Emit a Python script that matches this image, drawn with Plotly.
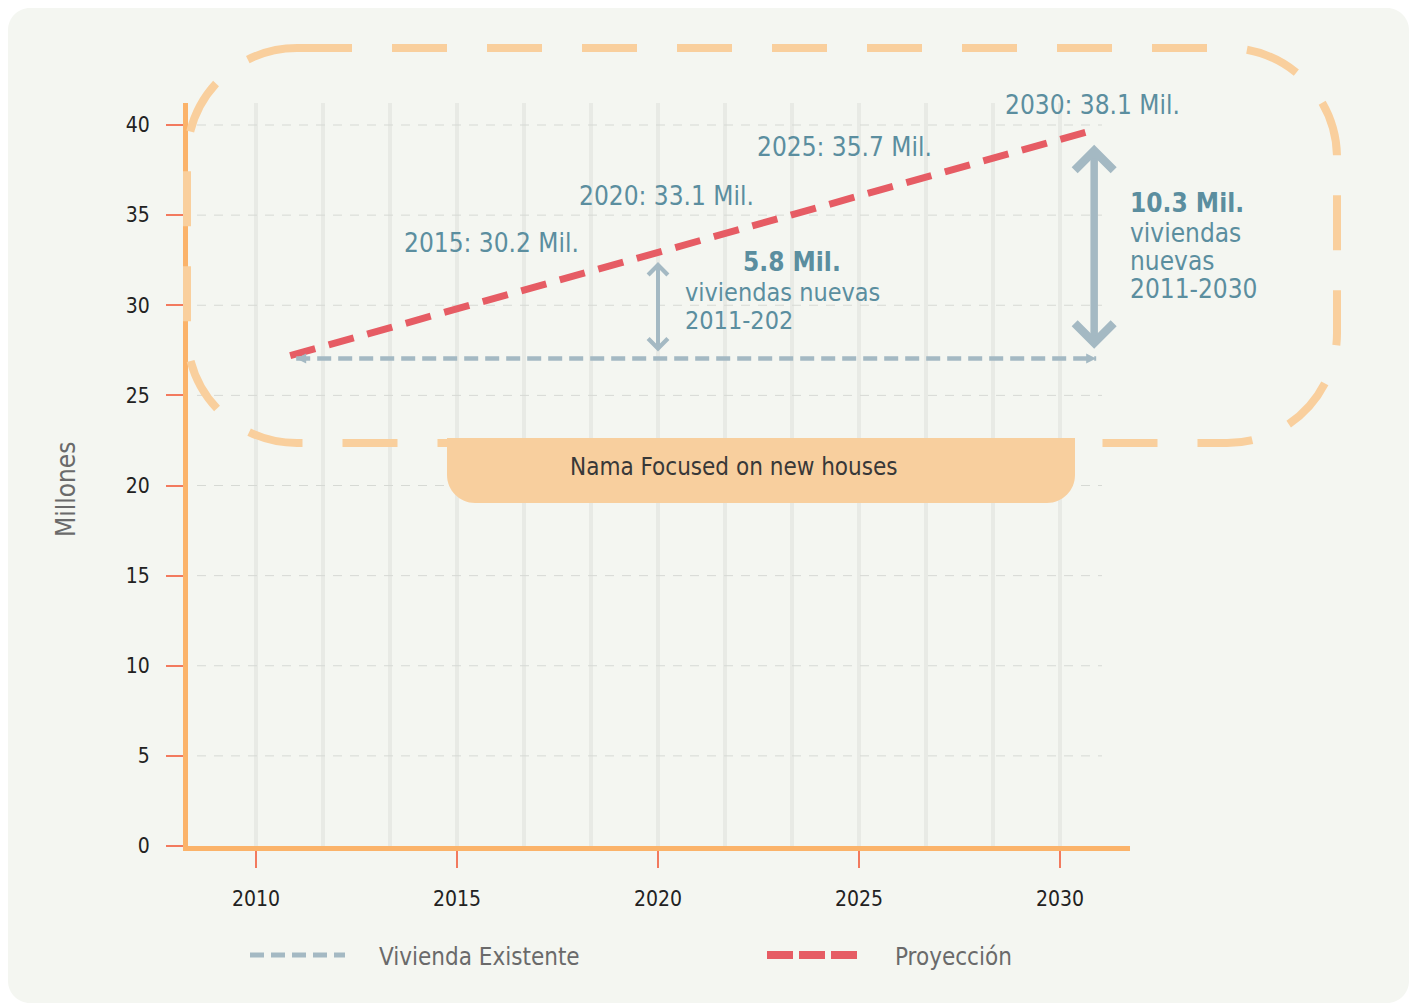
import plotly.graph_objects as go
import numpy as np

# ---------------- data ----------------
x_tick_years = [2010, 2015, 2020, 2025, 2030]
y_tick_vals = [0, 5, 10, 15, 20, 25, 30, 35, 40]

exist_years = [2011.0, 2030.9]
exist_vals = [27.05, 27.05]

proj_years = [2010.85, 2030.8]
proj_vals = [27.2, 39.7]

proj_labels = ["2015: 30.2 Mil.", "2020: 33.1 Mil.", "2025: 35.7 Mil.", "2030: 38.1 Mil."]

gap_small_year = 2020
gap_small_range = [27.35, 32.4]
gap_small_label = ["5.8 Mil.", "viviendas nuevas", "2011-202"]

gap_big_year = 2030.85
gap_big_range = [27.5, 38.9]
gap_big_label = ["10.3 Mil.", "viviendas", "nuevas", "2011-2030"]

series_names = ["Vivienda Existente", "Proyección"]
box_label = "Nama Focused on new houses"
y_title = "Millones"

# ---------------- styles ----------------
# page coordinates (the figure sits at an 8px body margin)
OFF = 8
FW, FH = 1410, 997
L, R, T, B = 188, 1130, 103, 846
PPX = 40.2      # px per year
PPY = 18.025    # px per million
X0 = 2010 - (256 - L) / PPX
X1 = 2010 + (R - 256) / PPX
YTOP = (B - T) / PPY

FONT = "DejaVu Sans Condensed, Liberation Sans Narrow, Roboto Condensed, sans-serif"
BLUE = "#5b8e9f"
GREY = "#a4b9c3"
RED = "#e65c64"
ORANGE_AX = "#fbb36a"
TICK = "#f27a5e"
BORDER = "#f9cf9d"
BOXFILL = "#f8cf9e"
CARD = "#f4f6f1"


def px(x):
    return (x - L) / (R - L)


def py(y):
    return (B - y) / (B - T)


def rrect(x0, y0, x1, y1, rtl, rtr, rbr, rbl):
    k = 0.5523
    def P(x, y):
        return f"{px(x):.5f},{py(y):.5f}"
    s = f"M{P(x0 + rtl, y0)}"
    s += f" L{P(x1 - rtr, y0)}"
    s += f" C{P(x1 - rtr + k * rtr, y0)} {P(x1, y0 + rtr - k * rtr)} {P(x1, y0 + rtr)}"
    s += f" L{P(x1, y1 - rbr)}"
    s += f" C{P(x1, y1 - rbr + k * rbr)} {P(x1 - rbr + k * rbr, y1)} {P(x1 - rbr, y1)}"
    s += f" L{P(x0 + rbl, y1)}"
    s += f" C{P(x0 + rbl - k * rbl, y1)} {P(x0, y1 - rbl + k * rbl)} {P(x0, y1 - rbl)}"
    s += f" L{P(x0, y0 + rtl)}"
    s += f" C{P(x0, y0 + rtl - k * rtl)} {P(x0 + rtl - k * rtl, y0)} {P(x0 + rtl, y0)} Z"
    return s


fig = go.Figure()

fig.add_trace(go.Scatter(
    x=proj_years, y=proj_vals, mode="lines", name=series_names[1],
    line=dict(color=RED, width=7, dash="26px,14px"), showlegend=False,
))
fig.add_trace(go.Scatter(
    x=exist_years, y=exist_vals, mode="lines+markers", name=series_names[0],
    line=dict(color=GREY, width=4.5, dash="14px,7px"),
    marker=dict(symbol=["arrow-left", "arrow-right"], size=10, color=GREY),
    showlegend=False,
))

shapes = []
# card background
shapes.append(dict(type="path", path=rrect(8, 8, 1409, 1003, 22, 22, 22, 22),
                   xref="paper", yref="paper", fillcolor=CARD, line=dict(width=0), layer="below"))
# vertical gridlines
for gx in np.linspace(x_tick_years[0], x_tick_years[-1], 13):
    shapes.append(dict(type="line", xref="x", yref="paper", x0=gx, x1=gx, y0=0, y1=1,
                       line=dict(color="#e8eae5", width=4), layer="below"))
# horizontal dashed gridlines
for v in y_tick_vals[1:]:
    shapes.append(dict(type="line", xref="paper", yref="y", x0=px(197), x1=px(1102), y0=v, y1=v,
                       line=dict(color="#d6d9d4", width=1, dash="9px,8px"), layer="below"))
# dashed rounded border
shapes.append(dict(type="path", path=rrect(187, 48, 1337, 443, 110, 110, 110, 110),
                   xref="paper", yref="paper", fillcolor="rgba(0,0,0,0)",
                   line=dict(color=BORDER, width=8, dash="55px,40px"), layer="above"))
# Nama box
shapes.append(dict(type="path", path=rrect(447, 438, 1075, 503, 0, 0, 28, 28),
                   xref="paper", yref="paper", fillcolor=BOXFILL, line=dict(width=0), layer="above"))
# legend samples
shapes.append(dict(type="line", xref="paper", yref="paper", x0=px(250), x1=px(345), y0=py(955), y1=py(955),
                   line=dict(color=GREY, width=5, dash="14px,7px")))
shapes.append(dict(type="line", xref="paper", yref="paper", x0=px(767), x1=px(862), y0=py(955), y1=py(955),
                   line=dict(color=RED, width=8, dash="26px,6px")))

ann = []


def text_ann(t, lx, ly, size, color, anchor="left", bold=False, angle=0):
    return dict(text=f"<b>{t}</b>" if bold else t, x=px(lx), y=py(ly), xref="paper", yref="paper",
                xanchor=anchor, yanchor="middle", showarrow=False, textangle=angle,
                font=dict(family=FONT, size=size, color=color))


# projection labels
label_pos = [(402, 243), (577, 196), (755, 147), (1003, 105)]
for t, (lx, ly) in zip(proj_labels, label_pos):
    ann.append(text_ann(t, lx, ly, 26, BLUE))
# small gap label
small_pos = [(741, 262, 26, True), (683, 292, 25, False), (683, 320, 25, False)]
for t, (lx, ly, fs, b) in zip(gap_small_label, small_pos):
    ann.append(text_ann(t, lx, ly, fs, BLUE, bold=b))
big_pos = [(1128, 203, 26, True), (1128, 233, 26, False), (1128, 261, 26, False), (1128, 289, 26, False)]
for t, (lx, ly, fs, b) in zip(gap_big_label, big_pos):
    ann.append(text_ann(t, lx, ly, fs, BLUE, bold=b))
# double arrows
ann.append(dict(text="", x=gap_small_year, y=gap_small_range[1], ax=gap_small_year, ay=gap_small_range[0],
                xref="x", yref="y", axref="x", ayref="y", showarrow=True, arrowside="end+start",
                arrowhead=4, startarrowhead=4, arrowsize=0.95, startarrowsize=0.95, arrowwidth=4,
                arrowcolor=GREY, standoff=0, startstandoff=0))
ann.append(dict(text="", x=gap_big_year, y=gap_big_range[1], ax=gap_big_year, ay=gap_big_range[0],
                xref="x", yref="y", axref="x", ayref="y", showarrow=True, arrowside="end+start",
                arrowhead=4, startarrowhead=4, arrowsize=1.0, startarrowsize=1.0, arrowwidth=7.5,
                arrowcolor=GREY, standoff=0, startstandoff=0))
# box label
ann.append(text_ann(box_label, 734, 467, 24, "#383838", anchor="center"))
# y title
ann.append(text_ann(y_title, 66, 490, 26, "#6a6a6a", anchor="center", angle=-90))
# legend texts
ann.append(text_ann(series_names[0], 377, 957, 24, "#6a6a6a"))
ann.append(text_ann(series_names[1], 893, 957, 24, "#6a6a6a"))

fig.update_layout(
    width=FW, height=FH, autosize=False,
    margin=dict(l=L - OFF, r=(OFF + FW) - R, t=T - OFF, b=(OFF + FH) - B, pad=0),
    paper_bgcolor="white", plot_bgcolor="rgba(0,0,0,0)",
    shapes=shapes, annotations=ann, showlegend=False,
    font=dict(family=FONT, color="#222"),
    xaxis=dict(range=[X0, X1], tickvals=x_tick_years, showgrid=False, zeroline=False,
               showline=True, linecolor=ORANGE_AX, linewidth=5,
               ticks="outside", ticklen=17, tickwidth=2, tickcolor=TICK,
               tickfont=dict(family=FONT, size=21, color="#222"), ticklabelstandoff=13),
    yaxis=dict(range=[0, YTOP], tickvals=y_tick_vals, showgrid=False, zeroline=False,
               showline=True, linecolor=ORANGE_AX, linewidth=5,
               ticks="outside", ticklen=17, tickwidth=2, tickcolor=TICK,
               tickfont=dict(family=FONT, size=21, color="#222"), ticklabelstandoff=12),
)

fig.write_html("out.html")
